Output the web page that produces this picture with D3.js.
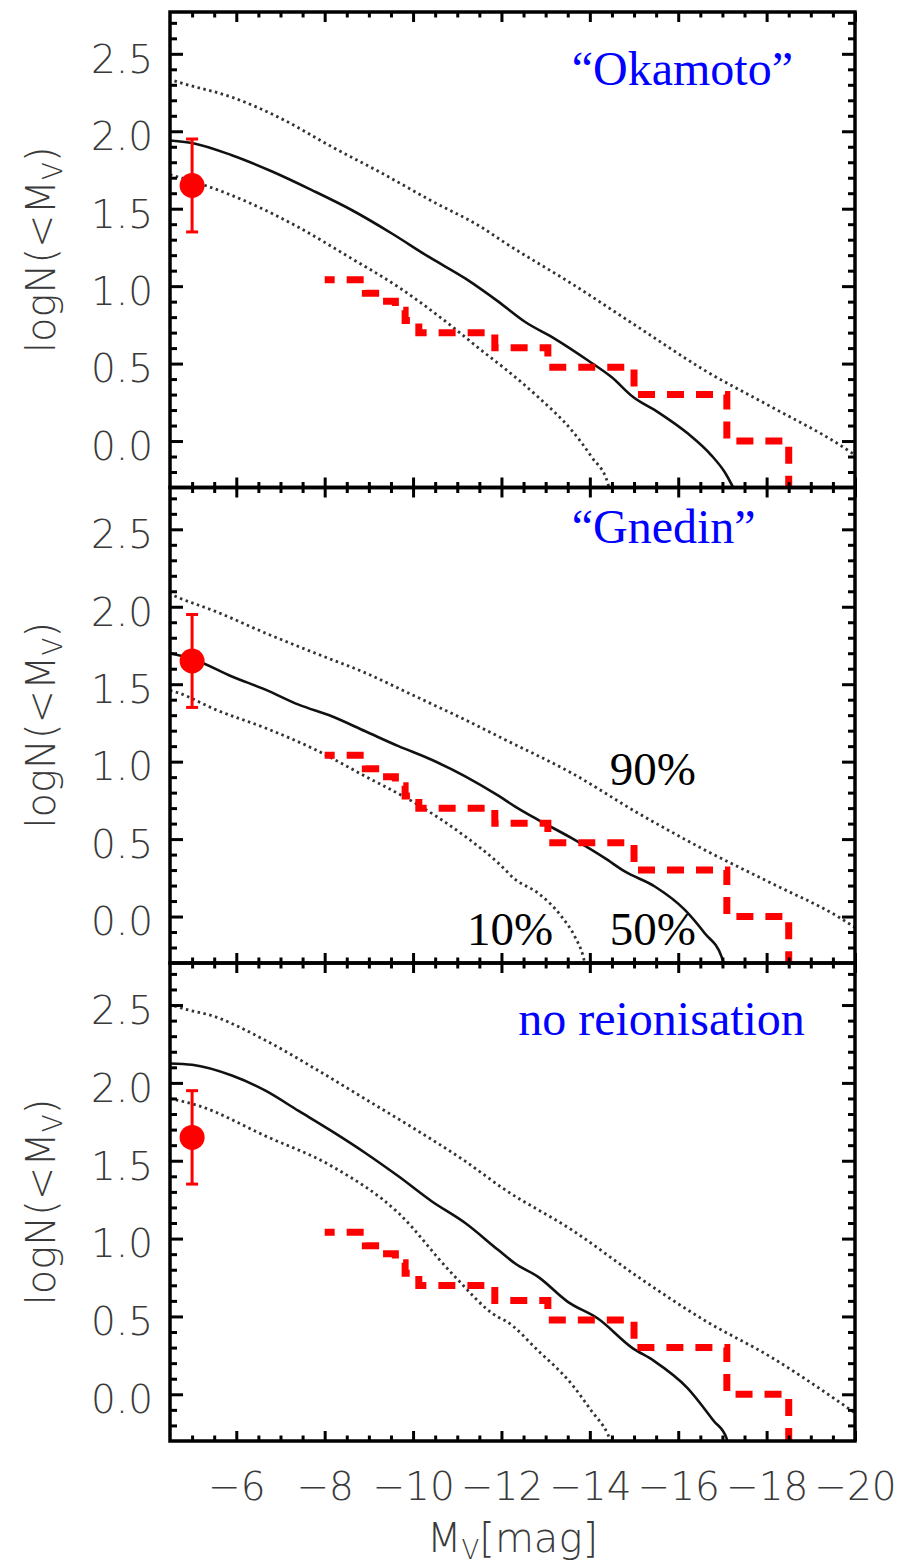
<!DOCTYPE html>
<html>
<head>
<meta charset="utf-8">
<script src="https://cdn.jsdelivr.net/npm/d3@7"></script>
<style>
  html, body { margin: 0; padding: 0; background: #fff; }
  svg { display: block; }
</style>
</head>
<body>
<svg id="chart" width="900" height="1565"></svg>
<script>
// Cumulative luminosity function of satellites, N(<M_V), for three reionisation models.

const magDomain = [-4.5, -20];
const logDomain = [-0.3, 2.77];
const xTickLabels = [-6, -8, -10, -12, -14, -16, -18, -20];
const yTickLabels = [0.0, 0.5, 1.0, 1.5, 2.0, 2.5];

// Observed classical satellites: step edges in M_V and the count N brighter than each segment
const obsEdges = [-8.0, -8.92, -9.4, -9.6, -9.82, -10.13, -11.85, -13.05, -15.0, -17.1, -18.5];
const obsCounts = [11, 9, 8, 7, 6, 5, 4, 3, 2, 1];

// Corrected total estimate with its error bar
const pointMag = -5.0;
const pointLogN = 1.65;
const pointErr = 0.30;

// "Okamoto" model: median, 90th and 10th percentiles  [M_V, logN]
const okamotoMedian = [[-4.5, 1.94], [-5.07, 1.92], [-5.9, 1.845], [-6.81, 1.74], [-7.71, 1.62],
  [-8.62, 1.49], [-9.52, 1.34], [-10.35, 1.19], [-11.18, 1.05], [-11.93, 0.90],
  [-12.53, 0.77], [-13.21, 0.66], [-13.96, 0.52], [-14.49, 0.413], [-14.98, 0.284], [-15.54, 0.187],
  [-16.22, 0.048], [-16.75, -0.092], [-17.05, -0.2], [-17.28, -0.32]];
const okamotoP90 = [[-4.6, 2.325], [-4.81, 2.307], [-5.9, 2.22], [-7.03, 2.08], [-8.16, 1.90],
  [-9.29, 1.73], [-10.42, 1.55], [-11.55, 1.38], [-12.08, 1.28], [-13.59, 1.016], [-15.09, 0.736],
  [-16.6, 0.456], [-18.11, 0.22], [-19.61, -0.017], [-20.0, -0.09]];
const okamotoP10 = [[-4.5, 1.72], [-5.3, 1.65], [-6.28, 1.54], [-7.41, 1.38], [-8.54, 1.19],
  [-9.67, 0.994], [-10.8, 0.758], [-11.55, 0.585], [-12.08, 0.467], [-12.83, 0.284], [-13.59, 0.069],
  [-14.04, -0.103], [-14.41, -0.275], [-14.45, -0.32]];

// "Gnedin" model
const gnedinMedian = [[-4.5, 1.70], [-5.04, 1.66], [-5.9, 1.55], [-6.66, 1.465], [-7.41, 1.368],
  [-8.16, 1.293], [-8.92, 1.196], [-9.67, 1.10], [-10.42, 1.012], [-11.18, 0.905], [-11.93, 0.78],
  [-12.31, 0.71], [-12.83, 0.624], [-13.59, 0.506], [-14.34, 0.377], [-14.79, 0.291],
  [-15.47, 0.194], [-16.15, 0.043], [-16.6, -0.108], [-16.98, -0.259], [-17.05, -0.32]];
const gnedinP90 = [[-4.6, 2.07], [-4.7, 2.058], [-5.53, 1.97], [-6.66, 1.83], [-7.79, 1.70],
  [-8.92, 1.573], [-10.05, 1.422], [-11.18, 1.27], [-12.08, 1.142], [-13.59, 0.926], [-15.09, 0.668],
  [-16.6, 0.43], [-18.11, 0.215], [-19.61, 0.0], [-20.0, -0.07]];
const gnedinP10 = [[-4.5, 1.46], [-4.7, 1.443], [-5.53, 1.336], [-6.66, 1.217], [-7.79, 1.077],
  [-8.92, 0.905], [-10.05, 0.732], [-11.18, 0.517], [-11.93, 0.345], [-12.31, 0.24], [-12.83, 0.151],
  [-13.36, 0.0], [-13.66, -0.13], [-13.85, -0.259], [-13.9, -0.32]];

// Model without reionisation
const noReionMedian = [[-4.5, 2.125], [-5.0, 2.116], [-5.9, 2.047], [-6.66, 1.95], [-7.41, 1.82],
  [-8.16, 1.69], [-8.92, 1.55], [-9.67, 1.40], [-10.42, 1.24], [-11.18, 1.10], [-11.93, 0.926],
  [-12.31, 0.84], [-12.83, 0.754], [-13.51, 0.592], [-14.19, 0.485], [-14.95, 0.30], [-15.45, 0.215],
  [-16.2, 0.043], [-16.8, -0.17], [-17.09, -0.28], [-17.13, -0.32]];
const noReionP90 = [[-4.6, 2.495], [-4.66, 2.489], [-5.53, 2.424], [-6.66, 2.273], [-7.79, 2.09],
  [-8.92, 1.896], [-10.05, 1.702], [-11.18, 1.497], [-12.08, 1.314], [-13.59, 1.056], [-15.09, 0.754],
  [-16.6, 0.474], [-18.11, 0.237], [-19.61, -0.043], [-20.0, -0.12]];
const noReionP10 = [[-4.5, 1.90], [-5.15, 1.853], [-6.66, 1.659], [-8.16, 1.465], [-9.67, 1.164],
  [-10.88, 0.776], [-11.93, 0.495], [-12.08, 0.474], [-12.83, 0.28], [-13.59, 0.065], [-14.04, -0.108],
  [-14.41, -0.259], [-14.5, -0.32]];

// Layout of the three stacked panels
const plotLeft = 170, plotRight = 855;
const panelTops = [12, 487.5, 963];
const panelBottoms = [487.5, 963, 1441];

const panels = [
  { median: okamotoMedian, p90: okamotoP90, p10: okamotoP10,
    title: "\u201cOkamoto\u201d", titleAt: [-13.59, 2.30], notes: [] },
  { median: gnedinMedian, p90: gnedinP90, p10: gnedinP10,
    title: "\u201cGnedin\u201d", titleAt: [-13.59, 2.413],
    notes: [{ text: "90%", at: [-14.45, 0.851] }, { text: "50%", at: [-14.45, -0.184] },
            { text: "10%", at: [-11.22, -0.184] }] },
  { median: noReionMedian, p90: noReionP90, p10: noReionP10,
    title: "no reionisation", titleAt: [-12.38, 2.305], notes: [] }
];

const svg = d3.select("#chart");
const x = d3.scaleLinear().domain(magDomain).range([plotLeft, plotRight]);

const sansFont = "'DejaVu Sans', 'Liberation Sans', sans-serif";
const serifFont = "'Liberation Serif', 'Times New Roman', serif";

const yMajor = yTickLabels;
const yMinor = d3.range(-3, 28).map(i => i / 10)
  .filter(v => v > logDomain[0] + 1e-6 && v < logDomain[1] && !yMajor.some(m => Math.abs(m - v) < 1e-6));
const xMajor = xTickLabels;
const xMinor = d3.range(-5, -20, -0.5).filter(v => !xMajor.includes(v));

function styleTicks(g) {
  g.select(".domain").remove();
  g.selectAll(".tick line").attr("stroke", "#000").attr("stroke-width", 3);
}

panels.forEach((p, i) => {
  const top = panelTops[i], bottom = panelBottoms[i];
  const y = d3.scaleLinear().domain(logDomain).range([bottom, top]);
  const g = svg.append("g");

  const clipId = "clip" + i;
  svg.append("clipPath").attr("id", clipId)
    .append("rect").attr("x", plotLeft).attr("y", top)
    .attr("width", plotRight - plotLeft).attr("height", bottom - top);

  const line = d3.line().x(d => x(d[0])).y(d => y(d[1])).curve(d3.curveMonotoneX);
  const plot = g.append("g").attr("clip-path", `url(#${clipId})`);

  // percentile envelopes (dotted)
  [p.p90, p.p10].forEach(series => {
    plot.append("path").datum(series)
      .attr("d", line)
      .attr("fill", "none")
      .attr("stroke", "#333")
      .attr("stroke-width", 2.8)
      .attr("stroke-dasharray", "2.5,3.5");
  });

  // median (solid)
  plot.append("path").datum(p.median)
    .attr("d", line)
    .attr("fill", "none")
    .attr("stroke", "#111")
    .attr("stroke-width", 2.6);

  // observed satellites: cumulative step function (red dashed)
  const steps = [];
  obsCounts.forEach((n, k) => {
    const v = Math.log10(n);
    steps.push([obsEdges[k], v], [obsEdges[k + 1], v]);
  });
  steps.push([obsEdges[obsEdges.length - 1], logDomain[0]]);
  plot.append("path").datum(steps)
    .attr("d", d3.line().x(d => x(d[0])).y(d => y(d[1])))
    .attr("fill", "none")
    .attr("stroke", "#ff0000")
    .attr("stroke-width", 7)
    .attr("stroke-dasharray", "17,12")
    .attr("stroke-dashoffset", 7);

  // estimate with error bar
  const eb = g.append("g").attr("stroke", "#ff0000").attr("stroke-width", 3);
  eb.append("line")
    .attr("x1", x(pointMag)).attr("x2", x(pointMag))
    .attr("y1", y(pointLogN - pointErr)).attr("y2", y(pointLogN + pointErr));
  [pointLogN - pointErr, pointLogN + pointErr].forEach(v => {
    eb.append("line")
      .attr("x1", x(pointMag) - 6).attr("x2", x(pointMag) + 6)
      .attr("y1", y(v)).attr("y2", y(v));
  });
  g.append("circle")
    .attr("cx", x(pointMag)).attr("cy", y(pointLogN)).attr("r", 12.5)
    .attr("fill", "#ff0000");

  // panel title
  g.append("text")
    .attr("x", x(p.titleAt[0])).attr("y", y(p.titleAt[1]))
    .attr("font-family", serifFont).attr("font-size", 48)
    .attr("fill", "#0000ff")
    .text(p.title);

  p.notes.forEach(nt => {
    g.append("text")
      .attr("x", x(nt.at[0])).attr("y", y(nt.at[1]))
      .attr("font-family", serifFont).attr("font-size", 47)
      .attr("fill", "#000")
      .text(nt.text);
  });

  // axes: ticks on all four sides, pointing inward
  const left = g.append("g").attr("transform", `translate(${plotLeft},0)`);
  left.append("g").call(d3.axisLeft(y).tickValues(yMinor).tickSize(-7).tickFormat("")).call(styleTicks);
  left.append("g")
    .call(d3.axisLeft(y).tickValues(yMajor).tickSize(-13).tickPadding(17).tickFormat(d3.format(".1f")))
    .call(styleTicks)
    .call(a => a.selectAll("text")
      .attr("font-family", sansFont).attr("font-size", 39)
      .attr("font-weight", 300)
      .attr("fill", "#3a3a3a").attr("dy", "0.47em"));

  const right = g.append("g").attr("transform", `translate(${plotRight},0)`);
  right.append("g").call(d3.axisRight(y).tickValues(yMinor).tickSize(-7).tickFormat("")).call(styleTicks);
  right.append("g").call(d3.axisRight(y).tickValues(yMajor).tickSize(-13).tickFormat("")).call(styleTicks);

  const topAx = g.append("g").attr("transform", `translate(0,${top})`);
  topAx.append("g").call(d3.axisTop(x).tickValues(xMinor).tickSize(-5.5).tickFormat("")).call(styleTicks);
  topAx.append("g").call(d3.axisTop(x).tickValues(xMajor).tickSize(-10).tickFormat("")).call(styleTicks);

  const botAx = g.append("g").attr("transform", `translate(0,${bottom})`);
  botAx.append("g").call(d3.axisBottom(x).tickValues(xMinor).tickSize(-5.5).tickFormat("")).call(styleTicks);
  const isLast = i === panels.length - 1;
  botAx.append("g")
    .call(d3.axisBottom(x).tickValues(xMajor).tickSize(-10).tickPadding(31)
      .tickFormat(isLast ? (d => "\u2212" + Math.abs(d)) : ""))
    .call(styleTicks)
    .call(a => a.selectAll("text")
      .attr("font-family", sansFont).attr("font-size", 39)
      .attr("font-weight", 300)
      .attr("fill", "#3a3a3a"));

  // frame
  g.append("rect")
    .attr("x", plotLeft).attr("y", top)
    .attr("width", plotRight - plotLeft).attr("height", bottom - top)
    .attr("fill", "none").attr("stroke", "#000").attr("stroke-width", 3.5);

  // y-axis title
  const yt = g.append("text")
    .attr("transform", `translate(55,${(top + bottom) / 2}) rotate(-90)`)
    .attr("text-anchor", "middle")
    .attr("font-family", sansFont).attr("font-size", 40).attr("font-weight", 300)
    .attr("fill", "#3a3a3a");
  yt.append("tspan").text("logN(<M");
  yt.append("tspan").attr("font-size", 26).attr("dy", 7).text("V");
  yt.append("tspan").attr("dy", -7).text(")");
});

// x-axis title
const xt = svg.append("text")
  .attr("x", (plotLeft + plotRight) / 2).attr("y", 1552)
  .attr("text-anchor", "middle")
  .attr("font-family", sansFont).attr("font-size", 40).attr("font-weight", 300)
  .attr("fill", "#3a3a3a");
xt.append("tspan").text("M");
xt.append("tspan").attr("font-size", 26).attr("dy", 7).text("V");
xt.append("tspan").attr("dy", -7).text("[mag]");
</script>
</body>
</html>
